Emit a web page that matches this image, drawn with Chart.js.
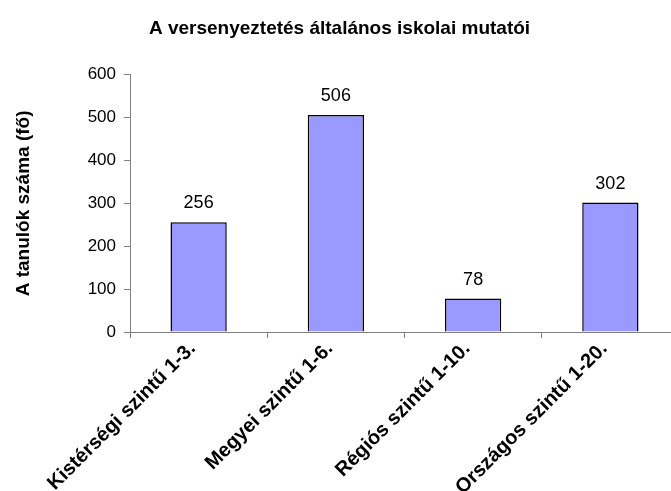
<!DOCTYPE html>
<html>
<head>
<meta charset="utf-8">
<script src="https://cdn.jsdelivr.net/npm/chart.js@4.4.1/dist/chart.umd.min.js"></script>
<style>
  html, body { margin: 0; padding: 0; background: #fff; overflow: hidden; }
  #wrap { width: 671px; height: 491px; overflow: hidden; position: relative; }
  #box { width: 683px; height: 491px; position: absolute; left: 0; top: 0; }
</style>
</head>
<body>
<div id="wrap"><div id="box"><canvas id="c"></canvas></div></div>
<script>
const chartTitle = 'A versenyeztetés általános iskolai mutatói';
const yAxisTitle = 'A tanulók száma (fő)';
const categories = ['Kistérségi szintű 1-3.', 'Megyei szintű 1-6.', 'Régiós szintű 1-10.', 'Országos szintű 1-20.'];
const values = [256, 506, 78, 302];
const yMin = 0, yMax = 600, yStep = 100;

const FONT = "'Liberation Sans', Arial, sans-serif";

const valueLabels = {
  id: 'valueLabels',
  afterDatasetsDraw(chart) {
    const ctx = chart.ctx;
    const meta = chart.getDatasetMeta(0);
    ctx.save();
    ctx.font = '18px ' + FONT;
    ctx.fillStyle = '#000';
    ctx.textAlign = 'center';
    ctx.textBaseline = 'alphabetic';
    meta.data.forEach((bar, i) => {
      ctx.fillText(String(values[i]), bar.x, bar.y - 14);
    });
    ctx.restore();
  }
};

new Chart(document.getElementById('c'), {
  type: 'bar',
  data: {
    labels: categories,
    datasets: [{
      data: values,
      backgroundColor: '#9999FF',
      borderColor: '#000000',
      borderWidth: 1.5,
      barPercentage: 0.41,
      categoryPercentage: 1.0
    }]
  },
  options: {
    responsive: true,
    maintainAspectRatio: false,
    animation: false,
    devicePixelRatio: 1,
    layout: { padding: { left: 0, right: 4, top: 0, bottom: 0 } },
    plugins: {
      legend: { display: false },
      tooltip: { enabled: false },
      title: {
        display: true,
        text: chartTitle,
        color: '#000',
        font: { family: FONT, size: 19, weight: 'bold' },
        padding: { top: 17, bottom: 35 }
      }
    },
    scales: {
      x: {
        offset: true,
        border: { display: true, color: '#808080', width: 1 },
        grid: { display: true, offset: true, drawOnChartArea: false, drawTicks: true, tickLength: 6, color: '#808080' },
        ticks: {
          autoSkip: false, maxRotation: 45, minRotation: 45, padding: -1, labelOffset: -6,
          color: '#000', font: { family: FONT, size: 20, weight: 'bold' }
        },
        afterFit(scale) { scale.height = 159; }
      },
      y: {
        min: yMin, max: yMax,
        border: { display: true, color: '#808080', width: 1 },
        grid: { display: true, drawOnChartArea: false, drawTicks: true, tickLength: 6, color: '#808080' },
        ticks: { stepSize: yStep, padding: 8, color: '#000', font: { family: FONT, size: 17 } },
        title: {
          display: true, text: yAxisTitle, color: '#000',
          font: { family: FONT, size: 19, weight: 'bold' },
          padding: { top: 12, bottom: 0 }
        },
        afterFit(scale) { scale.width = 130; }
      }
    }
  },
  plugins: [valueLabels]
});
</script>
</body>
</html>
